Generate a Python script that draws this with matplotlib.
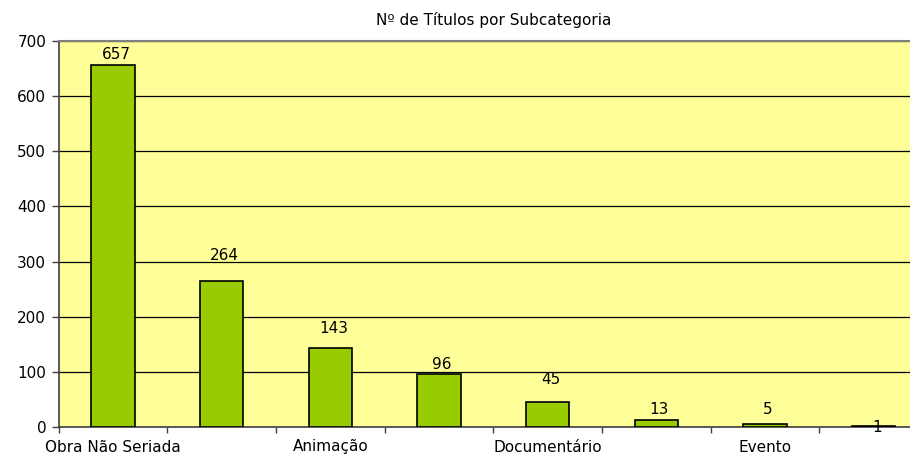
import numpy as np
import matplotlib
matplotlib.use("Agg")
import matplotlib.pyplot as plt

# data
categorias = ["Obra Não Seriada", "Obra Seriada", "Animação", "Jornalístico",
              "Documentário", "Videomusical", "Evento", "Outros"]
titulos = [657, 264, 143, 96, 45, 13, 5, 1]
# only every other category name is shown on the axis (as in the original)
rotulos_visiveis = categorias[::2]

# label offsets above bar tops, in pixels (Excel placed them unevenly)
label_offsets = [10, 25.5, 19.5, 9.5, 23, 10, 14.5, -1.5]

plt.rcParams['font.family'] = ['Verdana', 'DejaVu Sans']
plt.rcParams['font.size'] = 11

fig = plt.figure(figsize=(9.1, 4.55), dpi=100)
W, H = 910, 455
ax = fig.add_axes([58.7 / W, 1 - 427 / H, (928 - 58.7) / W, (427 - 41) / H])
ax.set_facecolor('#FFFF99')

x = np.arange(len(titulos))
bars = ax.bar(x, titulos, width=0.4, color='#99CC00', edgecolor='black',
              linewidth=1.2, zorder=3)

for b, v, off in zip(bars, titulos, label_offsets):
    ax.annotate(str(v), (b.get_x() + b.get_width() / 2, v),
                xytext=(3, off), textcoords='offset pixels',
                ha='center', va='center', fontsize=11, zorder=4)

ax.set_xlim(-0.5, len(titulos) - 0.5)
ax.set_ylim(0, 700)
ax.set_yticks(np.arange(0, 701, 100))
ax.yaxis.grid(True, color='black', linewidth=0.9, zorder=1)
ax.tick_params(axis='y', direction='out', length=5, width=1, color='#404040',
               pad=4)

ax.set_xticks(np.arange(-0.5, len(titulos), 1))
ax.set_xticklabels([])
ax.tick_params(axis='x', which='major', direction='out', length=4, width=1,
               color='#404040')
ax.set_xticks(x[::2], minor=True)
ax.set_xticklabels(rotulos_visiveis, minor=True)
ax.tick_params(axis='x', which='minor', length=0, pad=9)

for s in ['left', 'bottom']:
    ax.spines[s].set_color('#404040')
    ax.spines[s].set_linewidth(1.2)
ax.spines['top'].set_color('#808080')
ax.spines['top'].set_linewidth(1.5)
ax.spines['right'].set_color('#808080')

fig.text(494 / W, 1 - 20 / H, 'Nº de Títulos por Subcategoria',
         ha='center', va='center', fontsize=11)

fig.savefig('out.png', dpi=100)
